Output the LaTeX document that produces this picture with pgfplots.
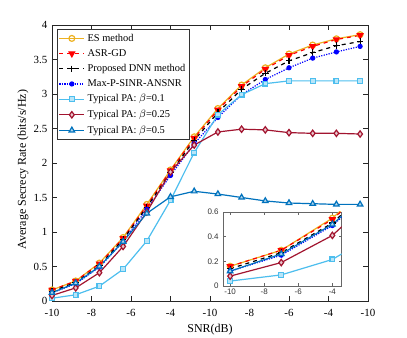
\documentclass[border=0pt]{standalone}
\usepackage{fontspec}
\setmainfont{Liberation Serif}
\newfontfamily\helv{Liberation Sans}
\usepackage{pgfplots}
\usepackage{pgfplotstable}
\pgfplotsset{compat=1.18}
\definecolor{esorange}{rgb}{0.929,0.694,0.125}
\definecolor{paone}{rgb}{0.301,0.745,0.933}
\definecolor{patwo}{rgb}{0.635,0.078,0.184}
\definecolor{pathree}{rgb}{0,0.447,0.741}

\pgfplotstableread{
snr  es    asr   dnn   maxp  pa1   pa2   pa3
-10  0.16  0.16  0.14  0.12  0.04  0.08  0.12
-7   0.29  0.29  0.27  0.25  0.09  0.19  0.26
-4   0.55  0.54  0.51  0.49  0.215 0.41  0.50
-1   0.92  0.91  0.89  0.86  0.46  0.79  0.86
2    1.40  1.38  1.36  1.33  0.87  1.29  1.27
5    1.90  1.89  1.86  1.82  1.46  1.87  1.51
8    2.38  2.36  2.33  2.28  2.15  2.26  1.59
11   2.79  2.77  2.73  2.66  2.70  2.45  1.55
14   3.13  3.11  3.07  2.99  2.99  2.49  1.50
17   3.38  3.36  3.30  3.21  3.15  2.48  1.45
20   3.58  3.56  3.48  3.38  3.19  2.44  1.42
23   3.71  3.69  3.60  3.52  3.19  2.43  1.41
26   3.80  3.79  3.70  3.61  3.19  2.43  1.40
29   3.86  3.85  3.76  3.69  3.19  2.42  1.40
}\srdata

\pgfplotsset{
  esstyle/.style={esorange, line width=0.9pt, mark=o, mark size=2.2pt, mark options={solid, fill=esorange!40}},
  asrstyle/.style={red, dashed, line width=0.9pt, mark=triangle*, mark size=2.4pt, mark options={solid, rotate=180, fill=red}},
  dnnstyle/.style={black, dashed, line width=0.9pt, mark=+, mark size=2.4pt, mark options={solid}},
  maxpstyle/.style={blue, densely dotted, line width=0.9pt, mark=*, mark size=1.5pt, mark options={solid, fill=blue}},
  paonestyle/.style={paone, line width=0.9pt, mark=square*, mark size=1.8pt, mark options={solid, fill=paone!40}},
  patwostyle/.style={patwo, line width=0.9pt, mark=diamond*, mark size=2.4pt, mark options={solid, fill=patwo!25}},
  pathreestyle/.style={pathree, line width=0.9pt, mark=triangle*, mark size=2.4pt, mark options={solid, fill=pathree!30}},
}

\begin{document}
\begin{tikzpicture}
\begin{axis}[
  name=main,
  scale only axis,
  width=237pt, height=207pt,
  xmin=-10, xmax=30, ymin=0, ymax=4,
  xtick={-10,-5,0,5,10,15,20,25,30},
  xticklabels={-10,-8,-6,-4,-10,-8,-6,-4,-10},
  ytick={0,0.5,1,1.5,2,2.5,3,3.5,4},
  yticklabels={0,0.5,1,1.5,2,2.5,3,3.5,4},
  tick label style={font=\fontsize{8.2}{9}\selectfont},
  xticklabel style={yshift=-2.5pt},
  tick align=inside,
  major tick length=3.5pt,
  axis line style={line width=0.7pt, black!85},
  every tick/.style={black!85, line width=0.5pt},
  xlabel={SNR(dB)},
  ylabel={Average Secrecy Rate (bits/s/Hz)},
  label style={font=\fontsize{9}{10}\selectfont},
  xlabel style={yshift=1pt},
  ylabel style={yshift=-3pt, xshift=-5pt},
  legend cell align=left,
  legend style={at={(0.015,0.985)}, anchor=north west, font=\fontsize{7.8}{8}\selectfont,
    draw=black!80, line width=0.6pt, inner sep=1.2pt, row sep=0.6pt},
  legend image post style={line width=0.9pt},
  legend image code/.code={\draw[mark repeat=2,mark phase=2] plot coordinates {(0cm,0cm) (0.33cm,0cm) (0.66cm,0cm)};},
]
\addplot[esstyle] table[x=snr,y=es] {\srdata};
\addplot[asrstyle] table[x=snr,y=asr] {\srdata};
\addplot[dnnstyle] table[x=snr,y=dnn] {\srdata};
\addplot[maxpstyle] table[x=snr,y=maxp] {\srdata};
\addplot[paonestyle] table[x=snr,y=pa1] {\srdata};
\addplot[patwostyle] table[x=snr,y=pa2] {\srdata};
\addplot[pathreestyle] table[x=snr,y=pa3] {\srdata};
\legend{ES method, ASR-GD, Proposed DNN method, Max-P-SINR-ANSNR,
  Typical PA: $\beta$=0.1, Typical PA: $\beta$=0.25, Typical PA: $\beta$=0.5}
\end{axis}
\begin{axis}[
  at={(128.5pt,11.25pt)}, anchor=south west,
  scale only axis,
  width=88.8pt, height=55.5pt,
  xmin=-10.4, xmax=-3.45, ymin=0, ymax=0.6,
  xtick={-10,-8,-6,-4}, ytick={0,0.2,0.4,0.6},
  xticklabels={-10,-8,-6,-4}, yticklabels={0,0.2,0.4,0.6},
  tick label style={font=\helv\fontsize{6}{6}\selectfont, black!80},
  xticklabel style={yshift=1pt},
  tick align=inside,
  major tick length=2pt,
  axis line style={line width=0.6pt, black!60},
  every tick/.style={black!60, line width=0.4pt},
  axis background/.style={fill=white},
  clip=true,
]
\addplot[esstyle] table[x=snr,y=es] {\srdata};
\addplot[asrstyle] table[x=snr,y=asr] {\srdata};
\addplot[dnnstyle] table[x=snr,y=dnn] {\srdata};
\addplot[maxpstyle] table[x=snr,y=maxp] {\srdata};
\addplot[paonestyle] table[x=snr,y=pa1] {\srdata};
\addplot[patwostyle] table[x=snr,y=pa2] {\srdata};
\addplot[pathreestyle] table[x=snr,y=pa3] {\srdata};
\end{axis}
\pgfresetboundingbox
\path[use as bounding box] (-39pt,-27.75pt) rectangle (266.25pt,225.75pt);
\end{tikzpicture}
\end{document}
